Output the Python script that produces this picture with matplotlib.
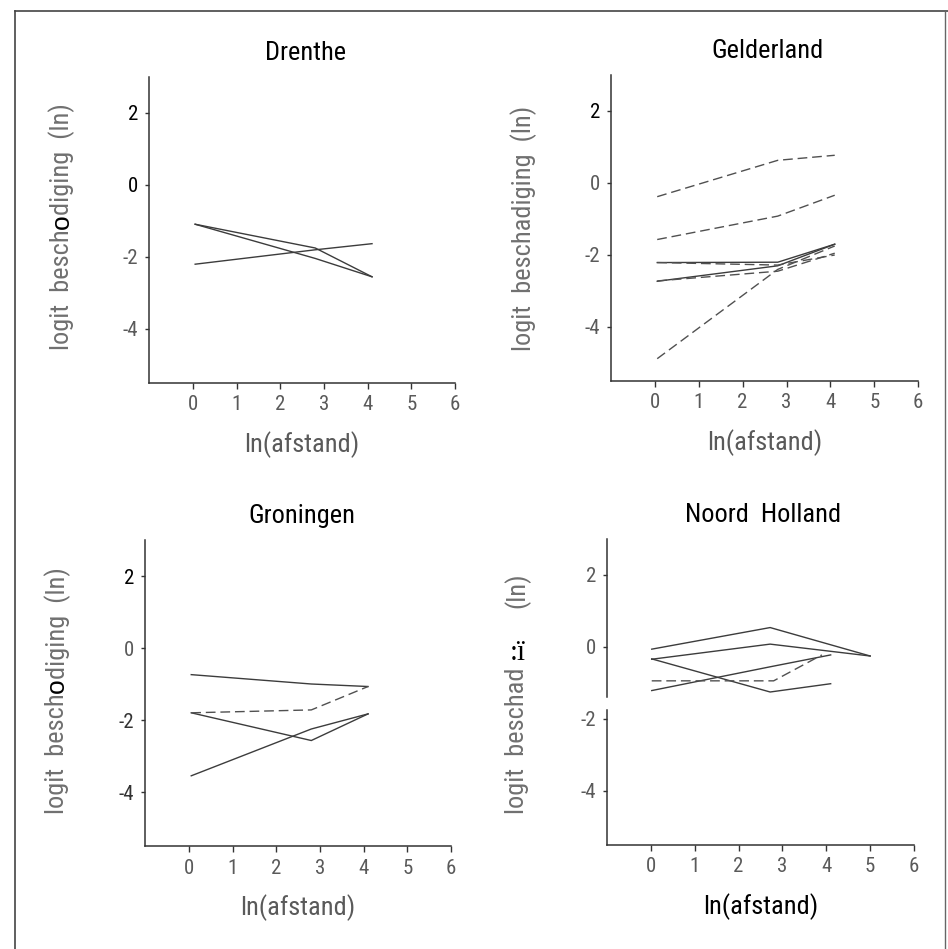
import matplotlib
matplotlib.use('Agg')
import matplotlib.pyplot as plt
from matplotlib.lines import Line2D

plt.rcParams['axes.unicode_minus'] = False

# ---------------- data ----------------
ln_afstand = [0.05, 2.8, 4.1]

drenthe_solid = [[-1.09, -1.75, -2.55],
                 [-1.09, -2.04, -2.55],
                 [-2.20, -1.80, -1.63]]
drenthe_dashed = []

gelderland_solid = [[-2.21, -2.20, -1.70],
                    [-2.73, -2.30, -1.70]]
gelderland_dashed = [[-0.38, 0.63, 0.77],
                     [-1.57, -0.92, -0.34],
                     [-2.21, -2.28, -2.00],
                     [-2.72, -2.45, -1.95],
                     [-4.88, -2.40, -1.75]]

groningen_solid = [[-0.74, -1.00, -1.07],
                   [-1.80, -2.57, -1.83],
                   [-3.55, -2.25, -1.83]]
groningen_dashed = [[-1.80, -1.72, -1.07]]

nh_solid_x = [[0.02, 2.72, 5.0],
              [0.02, 2.72, 5.0],
              [0.02, 2.72, 4.1],
              [0.02, 2.72, 4.1]]
nh_solid = [[-0.06, 0.54, -0.25],
            [-0.34, 0.08, -0.25],
            [-0.33, -1.25, -1.02],
            [-1.21, -0.55, -0.22]]
nh_dashed_x = [[0.02, 2.8, 3.9]]
nh_dashed = [[-0.94, -0.94, -0.22]]

provinces = ['Drenthe', 'Gelderland', 'Groningen', 'Noord  Holland']
x_ticks = [0, 1, 2, 3, 4, 5, 6]
y_ticks = [2, 0, -2, -4]
x_label = 'ln(afstand)'

# ---------------- style ----------------
NARROW = ['Roboto Condensed', 'Noto Sans Condensed', 'Liberation Sans Narrow',
          'Open Sans Condensed', 'Noto Sans', 'Liberation Sans']
STRETCH = 'condensed'
SANS = ['Liberation Sans', 'DejaVu Sans']
GREY = '#5a5a5a'
LGREY = '#707070'
LINE = '#3c3c3c'
LABEL_FS = 19
W, H = 948, 949

fig = plt.figure(figsize=(W / 100, H / 100), dpi=100)


def add_ax(l, r, t, b):
    return fig.add_axes([l / W, 1 - b / H, (r - l) / W, (b - t) / H])


def style(ax, tick_colors):
    ax.set_xlim(-1, 6)
    ax.set_ylim(-5.5, 3)
    for s in ['top', 'right']:
        ax.spines[s].set_visible(False)
    for s in ['left', 'bottom']:
        ax.spines[s].set_color('#333333')
        ax.spines[s].set_linewidth(1.1)
    ax.set_xticks(x_ticks)
    ax.set_xticklabels([str(v) for v in x_ticks], fontfamily=NARROW,
                       fontstretch=STRETCH, fontsize=15, color=GREY)
    ax.set_yticks(y_ticks)
    ax.set_yticklabels([str(v) for v in y_ticks], fontfamily=NARROW,
                       fontstretch=STRETCH, fontsize=15)
    for lab, c in zip(ax.get_yticklabels(), tick_colors):
        lab.set_color(c)
    ax.tick_params(axis='x', direction='out', length=4, width=1, pad=5,
                   color='#333333')
    ax.tick_params(axis='y', direction='out', length=3, width=1, pad=5,
                   color='#333333')
    ax.set_facecolor('none')


def draw(ax, solid_x, solid, dashed_x, dashed):
    for xs, ys in zip(solid_x, solid):
        ax.plot(xs, ys, color=LINE, lw=1.0, solid_joinstyle='miter')
    for xs, ys in zip(dashed_x, dashed):
        ax.plot(xs, ys, color='#505050', lw=1.0, dashes=(7, 3.5))


def title(ax, text, dx=0.012):
    ax.text(0.5 + dx, 1.078, text, transform=ax.transAxes, ha='center',
            va='center', fontsize=19, fontfamily=NARROW, fontstretch=STRETCH,
            color='black')


def xlab(ax, color=GREY):
    ax.text(0.5, -0.2, x_label, transform=ax.transAxes, ha='center',
            va='center', fontsize=LABEL_FS, fontfamily=NARROW,
            fontstretch=STRETCH, color=color)


def ylab_chain(ax, pieces, x, y_bottom):
    """Rotated label written bottom-to-top as consecutive pieces."""
    prev = None
    for text, color, fam in pieces:
        kw = dict(rotation=90, ha='center', va='bottom', fontsize=LABEL_FS,
                  color=color, fontfamily=fam)
        if fam is NARROW:
            kw['fontstretch'] = STRETCH
        if prev is None:
            prev = ax.text(x, y_bottom, text, transform=ax.transAxes, **kw)
        else:
            prev = ax.annotate(text, xy=(0.5, 1.0), xycoords=prev, **kw)
    return prev


def ylab(ax, text, x=-0.286, y=0.5):
    ax.text(x, y, text, transform=ax.transAxes, ha='center', va='center',
            rotation=90, fontsize=LABEL_FS, fontfamily=NARROW,
            fontstretch=STRETCH, color=LGREY)


# Drenthe
ax1 = add_ax(149.3, 455, 77, 383)
style(ax1, ['black', 'black', GREY, GREY])
draw(ax1, [ln_afstand] * len(drenthe_solid), drenthe_solid,
     [ln_afstand] * len(drenthe_dashed), drenthe_dashed)
title(ax1, provinces[0])
xlab(ax1)
ylab_chain(ax1, [('logit  besch', LGREY, NARROW), ('o', 'black', SANS),
                 ('diging  (ln)', LGREY, NARROW)],
           x=-0.286, y_bottom=(383 - 350) / 306)

# Gelderland
ax2 = add_ax(611.2, 918, 75, 381)
style(ax2, ['black', GREY, GREY, GREY])
draw(ax2, [ln_afstand] * len(gelderland_solid), gelderland_solid,
     [ln_afstand] * len(gelderland_dashed), gelderland_dashed)
title(ax2, provinces[1], dx=0.01)
xlab(ax2)
ylab(ax2, 'logit  beschadiging  (ln)', x=-0.284)

# Groningen
ax3 = add_ax(145.4, 451, 540, 846)
style(ax3, ['black', GREY, '#333333', '#333333'])
draw(ax3, [ln_afstand] * len(groningen_solid), groningen_solid,
     [ln_afstand] * len(groningen_dashed), groningen_dashed)
title(ax3, provinces[2], dx=0.013)
xlab(ax3)
ylab_chain(ax3, [('logit  besch', LGREY, NARROW), ('o', 'black', SANS),
                 ('diging  (ln)', LGREY, NARROW)],
           x=-0.289, y_bottom=(846 - 814) / 306)

# Noord Holland
ax4 = add_ax(607, 914, 539, 845)
style(ax4, [GREY, GREY, GREY, GREY])
draw(ax4, nh_solid_x, nh_solid, nh_dashed_x, nh_dashed)
title(ax4, provinces[3], dx=0.008)
xlab(ax4, color='black')
ax4.spines['left'].set_visible(False)
ax4.axvline(-1, ymin=(845 - 697) / 306, ymax=1, color='#333333', lw=1.1,
            clip_on=False)
ax4.axvline(-1, ymin=0, ymax=(845 - 710) / 306, color='#333333', lw=1.1,
            clip_on=False)
ax4.text(-0.293, (845 - 814) / 306, 'logit  beschad', transform=ax4.transAxes,
         ha='center', va='bottom', rotation=90, fontsize=LABEL_FS,
         fontfamily=NARROW, fontstretch=STRETCH, color=LGREY)
ax4.text(-0.29, (845 - 653) / 306, ':ï', transform=ax4.transAxes,
         ha='center', va='center', fontsize=21,
         fontfamily=['Liberation Serif', 'DejaVu Serif'], color='black')
ax4.text(-0.293, (845 - 590) / 306, '(ln)', transform=ax4.transAxes,
         ha='center', va='center', rotation=90, fontsize=LABEL_FS,
         fontfamily=NARROW, fontstretch=STRETCH, color=LGREY)

# outer frame of the scanned figure
fig.add_artist(Line2D([15 / W, 15 / W], [0, 1 - 11 / H],
                      transform=fig.transFigure, color='#444444', lw=1.2))
fig.add_artist(Line2D([15 / W, 1], [1 - 11 / H, 1 - 11 / H],
                      transform=fig.transFigure, color='#444444', lw=1.2))
fig.add_artist(Line2D([945 / W, 945 / W], [0, 1 - 11 / H],
                      transform=fig.transFigure, color='#666666', lw=1.0))

fig.savefig('out.png', dpi=100)
